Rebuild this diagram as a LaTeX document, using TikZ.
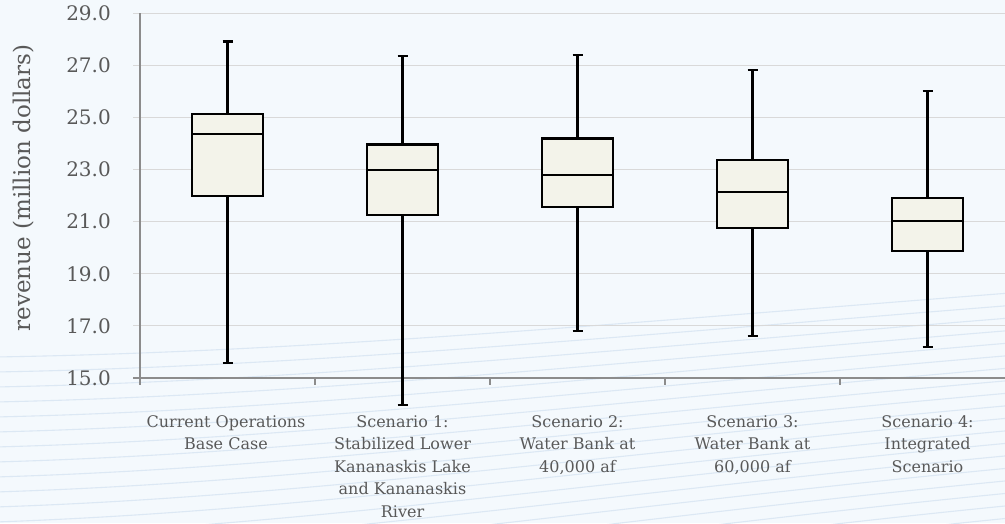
\documentclass[tikz,border=0pt]{standalone}
\usepackage{fontspec}
\setmainfont{DejaVu Serif}
\definecolor{bg}{HTML}{F4F9FD}
\definecolor{swoosh}{HTML}{DCE8F4}
\definecolor{gridc}{HTML}{D9D9D9}
\definecolor{axisc}{HTML}{8C8C8C}
\definecolor{txt}{HTML}{595959}
\definecolor{boxfill}{HTML}{F3F3EA}
\begin{document}
\begin{tikzpicture}[x=1pt,y=-1pt,
  declare function={Y(\v)=378-(\v-15)*26.07;},
  gridline/.style={draw=gridc, line width=1pt},
  axisline/.style={draw=axisc, line width=1.2pt},
  ticklabel/.style={anchor=east, text=txt, font=\fontsize{20}{24}\selectfont, inner sep=0pt},
  catlabel/.style={anchor=north, text=txt, align=center, font=\fontsize{16}{22.5}\selectfont, inner sep=0pt},
  boxstyle/.style={draw=black, fill=boxfill, line width=2.2pt},
  whisk/.style={draw=black, line width=2.2pt},
  swooshline/.style={draw=swoosh, line width=1.1pt}]
\useasboundingbox (0,0) rectangle (1005,523);
\fill[bg] (0,0) rectangle (1005,523);
\begin{scope}
\clip (0,0) rectangle (1005,523);
\foreach \i in {0,...,19} {
  \draw[swooshline] (-5,{357+15*\i}) .. controls (300,{352+14.5*\i}) and (600,{325+13*\i}) .. (1010,{293+12.5*\i});
}
\end{scope}
% gridlines and tick labels
\foreach \v in {17,19,...,29} {
  \draw[gridline] (133,{Y(\v)}) -- (1005,{Y(\v)});
}
\foreach \v in {15,17,...,29} {
  \node[ticklabel] (t\v) at (111,{Y(\v)}) {\v.0};
}
% axes
\draw[axisline] (140,{Y(29)}) -- (140,378);
\draw[axisline] (133,378) -- (1005,378);
\foreach \x in {140,315,490,665,840} {
  \draw[axisline] (\x,378) -- (\x,385);
}
% boxes
\foreach \c/\lo/\qa/\md/\qc/\hi in {227.5/15.58/21.98/24.36/25.13/27.91,
    402.5/13.96/21.25/22.98/23.96/27.34,
    577.5/16.80/21.56/22.78/24.19/27.39,
    752.5/16.62/20.74/22.12/23.36/26.81,
    927.5/16.19/19.87/21.02/21.90/26.02} {
  \draw[whisk] (\c,{Y(\lo)}) -- (\c,{Y(\qa)});
  \draw[whisk] (\c,{Y(\qc)}) -- (\c,{Y(\hi)});
  \draw[whisk] (\c-5,{Y(\lo)}) -- (\c+5,{Y(\lo)});
  \draw[whisk] (\c-5,{Y(\hi)}) -- (\c+5,{Y(\hi)});
  \draw[boxstyle] (\c-35.5,{Y(\qa)}) rectangle (\c+35.5,{Y(\qc)});
  \draw[whisk] (\c-35.5,{Y(\md)}) -- (\c+35.5,{Y(\md)});
}
% category labels
\node[catlabel] (c1) at (226,415) {Current Operations\\Base Case};
\node[catlabel] (c2) at (402.5,415) {Scenario 1:\\Stabilized Lower\\Kananaskis Lake\\and Kananaskis\\River};
\node[catlabel] (c3) at (577.5,415) {Scenario 2:\\Water Bank at\\40,000 af};
\node[catlabel] (c4) at (752.5,415) {Scenario 3:\\Water Bank at\\60,000 af};
\node[catlabel] (c5) at (927.5,415) {Scenario 4:\\Integrated\\Scenario};
% axis title
\node[rotate=90, text=txt, font=\fontsize{23}{27}\selectfont, inner sep=0pt] (ytitle) at (24,188) {revenue (million dollars)};
\end{tikzpicture}
\end{document}
